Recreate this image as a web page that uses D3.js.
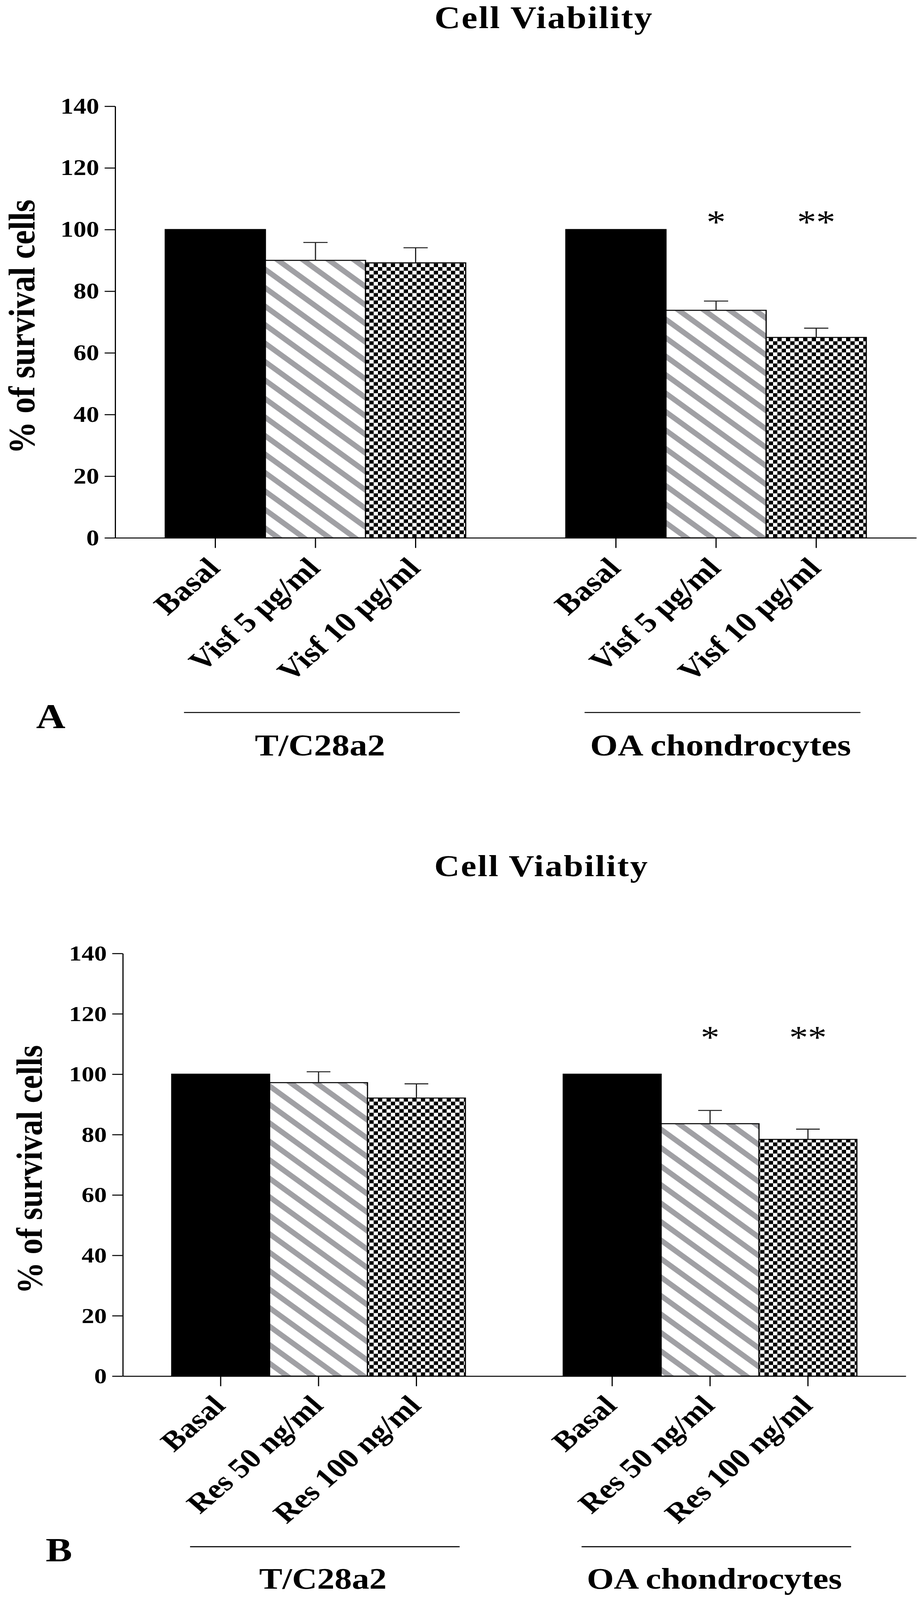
<!DOCTYPE html>
<html>
<head>
<meta charset="utf-8">
<script src="https://cdn.jsdelivr.net/npm/d3@7"></script>
<style>
  html, body { margin: 0; padding: 0; background: #fff; overflow: hidden; }
  svg { display: block; width: 100vw; height: 100vh; }
</style>
</head>
<body>
<script>
"use strict";

// Data
var groups = ["T/C28a2", "OA chondrocytes"];
var yTicks = [0, 20, 40, 60, 80, 100, 120, 140];

var treatmentsA = ["Basal", "Visf 5 \u00b5g/ml", "Visf 10 \u00b5g/ml"];
var meansA_TC = [100, 90, 89.2];
var semsA_TC = [0, 5.8, 4.9];
var meansA_OA = [100, 73.8, 65];
var semsA_OA = [0, 3.0, 3.0];
var sigA_TC = ["", "", ""];
var sigA_OA = ["", "*", "**"];

var treatmentsB = ["Basal", "Res 50 ng/ml", "Res 100 ng/ml"];
var meansB_TC = [100, 97.2, 92.1];
var semsB_TC = [0, 3.6, 4.7];
var meansB_OA = [100, 83.6, 78.4];
var semsB_OA = [0, 4.4, 3.4];
var sigB_TC = ["", "", ""];
var sigB_OA = ["", "*", "**"];

var SERIF = "'Liberation Serif', 'Times New Roman', Times, serif";
var fills = ["#000", "url(#hatch)", "url(#checker)"];

// Layout of the two panels
var panels = [
  { letter: "A", title: "Cell Viability", treatments: treatmentsA,
    means: [meansA_TC, meansA_OA], sems: [semsA_TC, semsA_OA], sig: [sigA_TC, sigA_OA],
    left: 295, right: 2347, top: 315, bottom: 1595, k: 1,
    titleX: 1393, titleY: 84, yTitleX: 88, starDy: 11,
    lineDy: 518, labelDy: 646, letterX: 130, letterDy: 563 },
  { letter: "B", title: "Cell Viability", treatments: treatmentsB,
    means: [meansB_TC, meansB_OA], sems: [semsB_TC, semsB_OA], sig: [sigB_TC, sigB_OA],
    left: 314.5, right: 2320, top: 2827.5, bottom: 4081, k: 0.978,
    titleX: 1387, titleY: 2598, yTitleX: 107, starDy: -77,
    lineDy: 506, labelDy: 630, letterX: 151, letterDy: 549 }
];

// drawing is laid out on a 2364 x 4745 canvas and fitted to the window
var svg = d3.select("body").append("svg")
  .attr("viewBox", "0 0 2364 4745")
  .attr("preserveAspectRatio", "none");

// Fill patterns
var defs = svg.append("defs");
var hatch = defs.append("pattern")
  .attr("id", "hatch")
  .attr("patternUnits", "userSpaceOnUse")
  .attr("width", 60)
  .attr("height", 42)
  .attr("patternTransform", "rotate(40)");
hatch.append("rect").attr("width", 60).attr("height", 42).attr("fill", "#fff");
hatch.append("rect").attr("width", 60).attr("height", 15).attr("fill", "#a0a0a4");

var checker = defs.append("pattern")
  .attr("id", "checker")
  .attr("patternUnits", "userSpaceOnUse")
  .attr("width", 22)
  .attr("height", 22);
checker.append("rect").attr("width", 22).attr("height", 22).attr("fill", "#fff");
checker.append("rect").attr("width", 11).attr("height", 11).attr("fill", "#000");
checker.append("rect").attr("x", 11).attr("y", 11).attr("width", 11).attr("height", 11).attr("fill", "#000");

function drawPanel(p) {
  var g = svg.append("g");
  var k = p.k;

  // one band per bar, with an empty band between the two cell groups
  var keys = [];
  var rows = [];
  groups.forEach(function(gr, gi) {
    if (gi > 0) keys.push("gap");
    p.treatments.forEach(function(t, ti) {
      var key = gr + "|" + ti;
      keys.push(key);
      rows.push({ key: key, gi: gi, ti: ti, label: t,
                  mean: p.means[gi][ti], sem: p.sems[gi][ti], sig: p.sig[gi][ti] });
    });
  });

  var x = d3.scaleBand().domain(keys).range([p.left, p.right])
    .paddingInner(0).paddingOuter(0.5);
  var y = d3.scaleLinear().domain([0, 140]).range([p.bottom, p.top]);
  var bw = x.bandwidth();

  // bars
  g.selectAll("rect.bar").data(rows).join("rect")
    .attr("class", "bar")
    .attr("x", function(d) { return x(d.key); })
    .attr("y", function(d) { return y(d.mean); })
    .attr("width", bw)
    .attr("height", function(d) { return y(0) - y(d.mean); })
    .attr("fill", function(d) { return fills[d.ti]; })
    .attr("stroke", "#000")
    .attr("stroke-width", 3);

  // error bars (upper half only)
  var err = rows.filter(function(d) { return d.sem > 0; });
  g.selectAll("line.err").data(err).join("line")
    .attr("class", "err")
    .attr("x1", function(d) { return x(d.key) + bw / 2; })
    .attr("x2", function(d) { return x(d.key) + bw / 2; })
    .attr("y1", function(d) { return y(d.mean); })
    .attr("y2", function(d) { return y(d.mean + d.sem); })
    .attr("stroke", "#222").attr("stroke-width", 3);
  g.selectAll("line.cap").data(err).join("line")
    .attr("class", "cap")
    .attr("x1", function(d) { return x(d.key) + bw / 2 - 31 * k; })
    .attr("x2", function(d) { return x(d.key) + bw / 2 + 31 * k; })
    .attr("y1", function(d) { return y(d.mean + d.sem); })
    .attr("y2", function(d) { return y(d.mean + d.sem); })
    .attr("stroke", "#222").attr("stroke-width", 3);

  // significance stars
  g.selectAll("text.sig").data(rows.filter(function(d) { return d.sig; })).join("text")
    .attr("class", "sig")
    .attr("x", function(d) { return x(d.key) + bw / 2; })
    .attr("y", y(100) + p.starDy)
    .attr("text-anchor", "middle")
    .attr("font-family", SERIF)
    .attr("font-size", 98 * k)
    .text(function(d) { return d.sig; });

  // y axis
  var yAxis = g.append("g")
    .attr("transform", "translate(" + p.left + ",0)")
    .call(d3.axisLeft(y).tickValues(yTicks).tickSize(27).tickPadding(14).tickSizeOuter(0));
  yAxis.attr("font-family", SERIF).attr("font-size", 66 * k).attr("font-weight", "bold");
  yAxis.select(".domain").attr("stroke-width", 3);
  yAxis.selectAll(".tick line").attr("stroke-width", 3);
  yAxis.selectAll(".tick text").attr("fill", "#000");

  // x axis with rotated labels
  var xAxis = g.append("g")
    .attr("transform", "translate(0," + p.bottom + ")")
    .call(d3.axisBottom(x)
      .tickValues(keys.filter(function(kk) { return kk !== "gap"; }))
      .tickSize(30).tickSizeOuter(0)
      .tickFormat(function(kk) { return p.treatments[+kk.split("|")[1]]; }));
  xAxis.attr("font-family", SERIF).attr("font-size", 84 * k).attr("font-weight", "bold");
  xAxis.select(".domain").attr("stroke-width", 3);
  xAxis.selectAll(".tick line").attr("stroke-width", 3);
  xAxis.selectAll(".tick text")
    .attr("fill", "#000")
    .attr("x", 0).attr("y", 0).attr("dy", null)
    .attr("text-anchor", "end")
    .attr("transform", "translate(" + (16 * k) + "," + (94 * k) + ") rotate(-45)");

  // y axis title
  g.append("text")
    .attr("transform", "translate(" + p.yTitleX + "," + ((p.top + p.bottom) / 2 + 14) + ") rotate(-90)")
    .attr("text-anchor", "middle")
    .attr("font-family", SERIF)
    .attr("font-size", 96 * k)
    .attr("font-weight", "bold")
    .text("% of survival cells");

  // chart title
  g.append("text")
    .attr("x", p.titleX)
    .attr("y", p.titleY)
    .attr("text-anchor", "middle")
    .attr("font-family", SERIF)
    .attr("font-size", 92 * k)
    .attr("font-weight", "bold")
    .attr("letter-spacing", 3)
    .text(p.title);

  // group brackets and names
  groups.forEach(function(gr, gi) {
    var x0 = x(gr + "|0") + 48 * k;
    var x1 = x(gr + "|" + (p.treatments.length - 1)) + bw - 15 * k;
    g.append("line")
      .attr("x1", x0).attr("x2", x1)
      .attr("y1", p.bottom + p.lineDy).attr("y2", p.bottom + p.lineDy)
      .attr("stroke", "#000").attr("stroke-width", 3);
    g.append("text")
      .attr("x", (x0 + x1) / 2 - 5)
      .attr("y", p.bottom + p.labelDy)
      .attr("text-anchor", "middle")
      .attr("font-family", SERIF)
      .attr("font-size", 91 * k)
      .attr("font-weight", "bold")
      .text(gr);
  });

  // panel letter
  g.append("text")
    .attr("x", p.letterX)
    .attr("y", p.bottom + p.letterDy)
    .attr("text-anchor", "middle")
    .attr("font-family", SERIF)
    .attr("font-size", 104 * k)
    .attr("font-weight", "bold")
    .text(p.letter);
}

panels.forEach(drawPanel);
</script>
</body>
</html>
